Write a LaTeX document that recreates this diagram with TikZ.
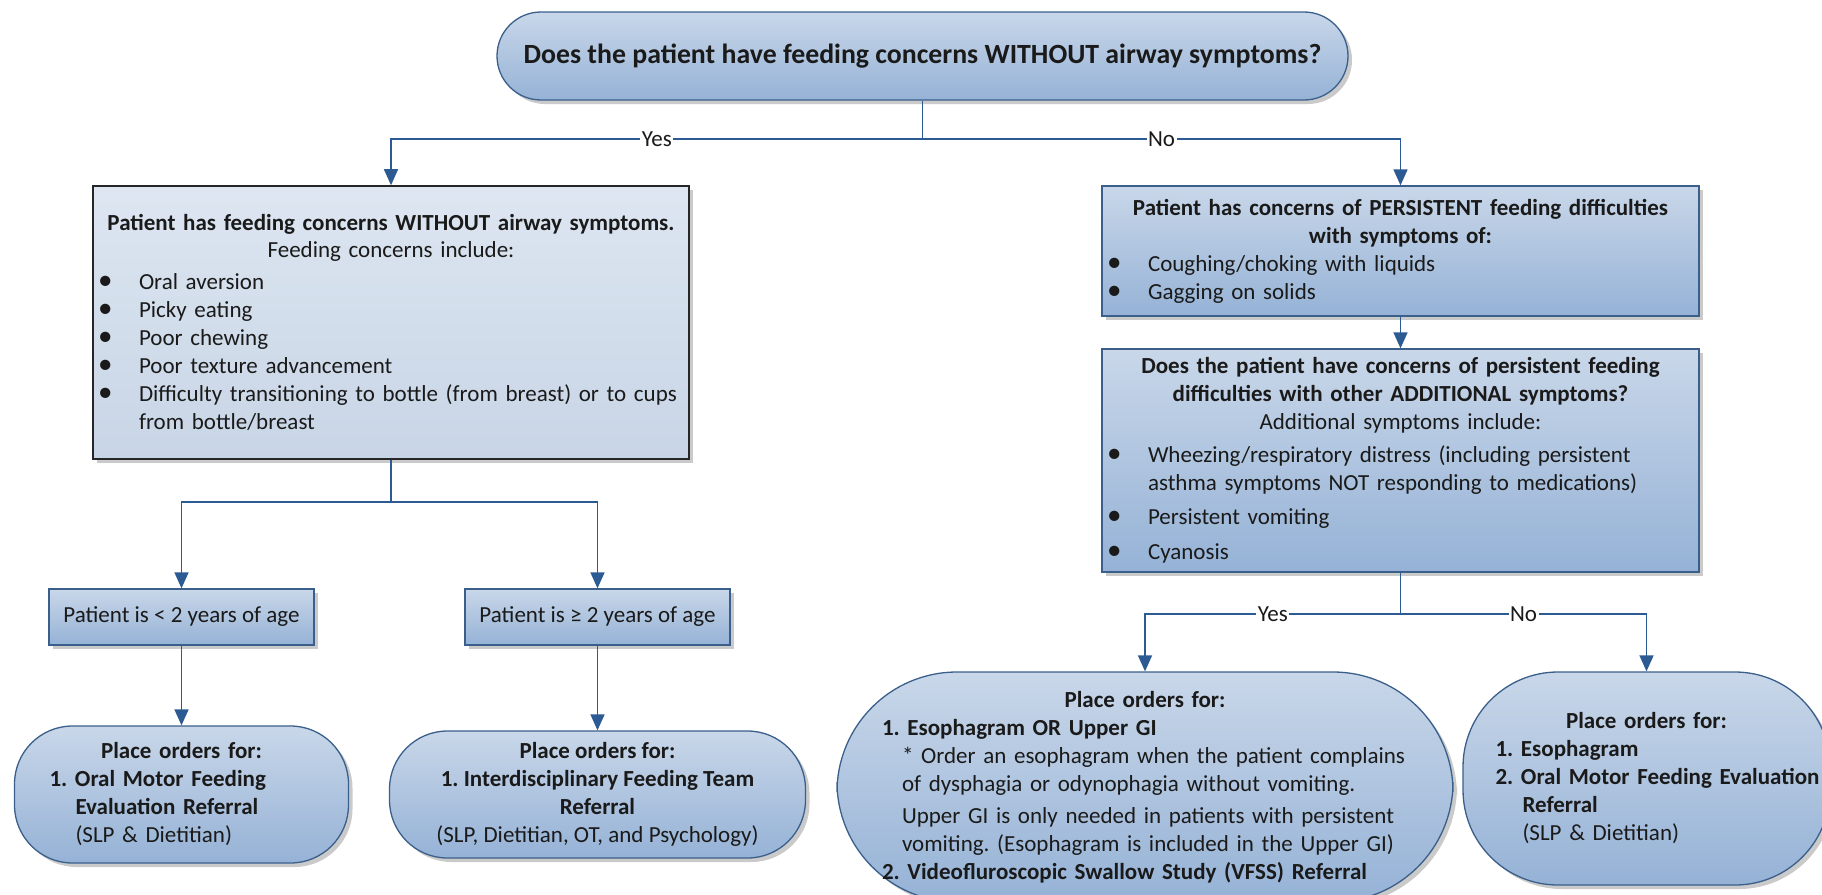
\documentclass[tikz,border=0pt]{standalone}
\usepackage{fontspec}
\setmainfont{Carlito}
\usetikzlibrary{arrows.meta,positioning,shadows}
\definecolor{boxtop}{HTML}{C9D7E9}
\definecolor{boxbot}{HTML}{95B2D6}
\definecolor{paletop}{HTML}{DDE6F1}
\definecolor{palebot}{HTML}{C8D5E6}
\definecolor{edge}{HTML}{3A5F8B}
\definecolor{linkc}{HTML}{2C5A93}
\definecolor{txt}{HTML}{1A1A1A}
\frenchspacing
\hyphenpenalty=10000
% bullet line and indented line inside the text boxes
\newcommand{\bul}[1]{\par\noindent\makebox[38pt][l]{\hspace*{-3pt}{\fontsize{29}{28}\selectfont\textbullet}}#1}
\newcommand{\ind}[1]{\par\noindent\hspace*{#1}}

\begin{document}
\begin{tikzpicture}[
  x=1pt, y=-1pt,
  font=\fontsize{23}{28}\selectfont, text=txt,
  shade/.style={top color=boxtop, bottom color=boxbot},
  shadowed/.style={drop shadow={shadow xshift=4pt, shadow yshift=-4pt, opacity=0.35, fill=black!60}},
  question/.style={rectangle, rounded corners=44pt, draw=edge, line width=1.3pt, shade, shadowed, minimum width=851pt, minimum height=88pt, font=\fontsize{27.8}{32}\selectfont\bfseries},
  infobox/.style={rectangle, draw=black!85, line width=1.6pt, top color=paletop, bottom color=palebot, shadowed, inner xsep=8pt, align=left, text width=580pt, minimum width=596pt},
  process/.style={rectangle, draw=edge, line width=1.3pt, shade, shadowed, inner xsep=8pt, align=left, text width=581pt, minimum width=597pt},
  agebox/.style={rectangle, draw=edge, line width=1.3pt, shade, shadowed, minimum width=265pt, minimum height=56pt, align=center},
  order/.style={rectangle, draw=edge, line width=1.3pt, shade, shadowed, align=left},
  link/.style={draw=linkc, line width=1.6pt},
  arr/.style={link, -{Triangle[width=14pt,length=16pt]}},
  lbl/.style={fill=white, inner sep=1.5pt},
]
\useasboundingbox (0,0) rectangle (1822,894);

% top question
\node[question] (ask) at (922.5,56) {Does the patient have feeding concerns WITHOUT airway symptoms?};

% left branch
\node[infobox, minimum height=273pt] (concern) at (391,322.5) {%
  {\centering\textbf{Patient has feeding concerns WITHOUT airway symptoms.}\\[-1pt] Feeding concerns include:\par}
  \vspace{4pt}
  \bul{Oral aversion}
  \bul{Picky eating}
  \bul{Poor chewing}
  \bul{Poor texture advancement}
  \bul{Difficulty transitioning to bottle (from breast) or to cups}
  \ind{38pt}from bottle/breast};

\node[agebox] (young) at (181.5,617) {Patient is < 2 years of age};
\node[agebox] (older) at (597.5,617) {Patient is ≥ 2 years of age};

\node[order, rounded corners=58pt, minimum width=334pt, minimum height=137pt, text width=300pt] (orderYoung) at (181.5,794.5) {%
  {\centering\textbf{Place orders for:}\par}
  \ind{18pt}\textbf{1. Oral Motor Feeding}
  \ind{44pt}\textbf{Evaluation Referral}
  \ind{44pt}(SLP \& Dietitian)};
\node[order, rounded corners=58pt, minimum width=416pt, minimum height=127pt, align=center] (orderOlder) at (597.5,794.5) {%
  \textbf{Place orders for:}\\ \textbf{1. Interdisciplinary Feeding Team}\\ \textbf{Referral}\\ (SLP, Dietitian, OT, and Psychology)};

% right branch
\node[process, minimum height=130pt] (persist) at (1400.5,251) {%
  {\centering\textbf{Patient has concerns of PERSISTENT feeding difficulties}\\ \textbf{with symptoms of:}\par}
  \bul{Coughing/choking with liquids}
  \bul{Gagging on solids}};

\node[process, minimum height=223pt] (extra) at (1400.5,460.5) {%
  {\centering\textbf{Does the patient have concerns of persistent feeding}\\ \textbf{difficulties with other ADDITIONAL symptoms?}\\ Additional symptoms include:\par}
  \vspace{5pt}
  \bul{Wheezing/respiratory distress (including persistent}
  \ind{38pt}asthma symptoms NOT responding to medications)
  \vspace{6pt}
  \bul{Persistent vomiting}
  \vspace{7pt}
  \bul{Cyanosis}};

\node[order, rounded corners=120pt, minimum width=616pt, minimum height=230pt, text width=530pt] (orderYes) at (1145,787) {%
  {\centering\textbf{Place orders for:}\par}
  \ind{2pt}\textbf{1. Esophagram OR Upper GI}
  \ind{22pt}* Order an esophagram when the patient complains
  \ind{22pt}of dysphagia or odynophagia without vomiting.
  \vspace{4pt}
  \ind{22pt}Upper GI is only needed in patients with persistent
  \ind{22pt}vomiting. (Esophagram is included in the Upper GI)
  \ind{2pt}\textbf{2. Videofluroscopic Swallow Study (VFSS) Referral}};

\node[order, rounded corners=95pt, minimum width=367pt, minimum height=213pt, text width=350pt] (orderNo) at (1646.5,778.5) {%
  {\centering\textbf{Place orders for:}\par}
  \ind{24pt}\textbf{1. Esophagram}
  \ind{24pt}\textbf{2. Oral Motor Feeding Evaluation}
  \ind{51pt}\textbf{Referral}
  \ind{51pt}(SLP \& Dietitian)};

% connectors
\coordinate (split) at (922.5,139);
\draw[link] (ask.south) -- (split);
\draw[arr] (split) -| node[lbl, pos=0.25] {Yes} (concern.north);
\draw[arr] (split) -| node[lbl, pos=0.25] {No} (persist.north);

\coordinate (ageSplit) at (391,502);
\draw[link] (concern.south) -- (ageSplit);
\draw[arr] (ageSplit) -| (young.north);
\draw[arr] (ageSplit) -| (older.north);
\draw[arr] (young) -- (orderYoung);
\draw[arr] (older) -- (orderOlder);

\draw[arr] (persist) -- (extra);
\coordinate (extraSplit) at (1400.5,614);
\draw[link] (extra.south) -- (extraSplit);
\draw[arr] (extraSplit) -| node[lbl, pos=0.25] {Yes} (orderYes.north);
\draw[arr] (extraSplit) -| node[lbl, pos=0.25] {No} (orderNo.north);
\end{tikzpicture}
\end{document}
